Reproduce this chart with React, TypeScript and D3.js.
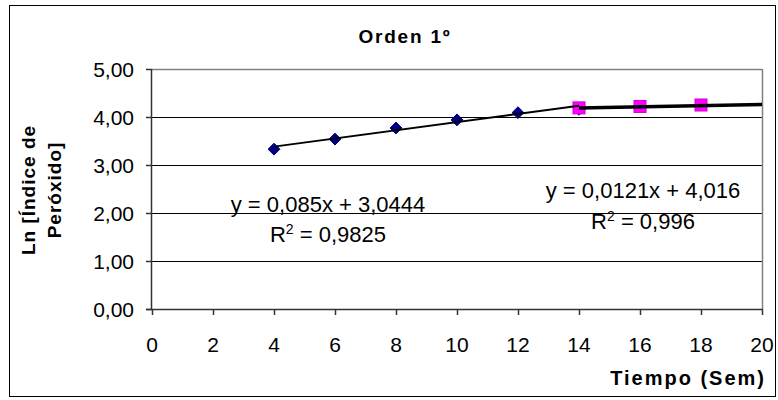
import React from "react";
import * as d3 from "d3";

const xTicks = [0, 2, 4, 6, 8, 10, 12, 14, 16, 18, 20];
const yTicks = [0, 1, 2, 3, 4, 5];
const blueX = [4, 6, 8, 10, 12, 14];
const blueY = [3.33, 3.54, 3.77, 3.94, 4.09, 4.16];
const pinkX = [14, 16, 18];
const pinkY = [4.19, 4.22, 4.25];
const trendSlopes = [0.085, 0.0121];
const trendIntercepts = [3.0444, 4.016];
const trendFrom = [4, 14];
const trendTo = [14, 20];
const eqLabels = ["y = 0,085x + 3,0444", "y = 0,0121x + 4,016"];
const r2Labels = [" = 0,9825", " = 0,996"];
const title = "Orden 1º";
const xTitle = "Tiempo (Sem)";
const yTitleLines = ["Ln [Índice de", "Peróxido]"];

const W = 778;
const H = 400;
const FONT = "'Liberation Sans', Arial, sans-serif";

export default function App() {
  const x = d3.scaleLinear().domain([0, 20]).range([152, 762]);
  const y = d3.scaleLinear().domain([0, 5]).range([309, 69]);
  const fmt = (v: number) => d3.format(".2f")(v).replace(".", ",");
  const diamond = d3.symbol().type(d3.symbolDiamond2 ?? d3.symbolDiamond).size(90)();
  const trendLines = trendSlopes.map((s, i) =>
    d3.line<number>()
      .x((v) => x(v))
      .y((v) => y(s * v + trendIntercepts[i]))([trendFrom[i], trendTo[i]])
  );
  const eqPos = [
    { cx: 328, y1: 212, y2: 242 },
    { cx: 643, y1: 198, y2: 229 },
  ];
  return (
    <svg width={W} height={H} style={{ position: "absolute", left: 0, top: 0, background: "#fff" }} fontFamily={FONT}>
      <rect x={9.5} y={5.5} width={766} height={391} fill="#fff" stroke="#000" strokeWidth={1} />
      <text x={405} y={43} textAnchor="middle" fontSize={19} fontWeight="bold" letterSpacing={1.8}>{title}</text>
      {/* gridlines */}
      {yTicks.filter((t) => t > 0 && t < 5).map((t) => (
        <line key={t} x1={x(0)} x2={x(20)} y1={Math.round(y(t)) + 0.5} y2={Math.round(y(t)) + 0.5} stroke="#000" strokeWidth={1} />
      ))}
      {/* plot border top / right */}
      <line x1={x(0)} x2={x(20)} y1={y(5) + 0.5} y2={y(5) + 0.5} stroke="#808080" strokeWidth={1.5} />
      <line x1={x(20) + 0.5} x2={x(20) + 0.5} y1={y(5)} y2={y(0)} stroke="#808080" strokeWidth={1.5} />
      {/* axes */}
      <line x1={x(0) - 0.5} x2={x(0) - 0.5} y1={y(5)} y2={y(0)} stroke="#333" strokeWidth={1.5} />
      <line x1={x(0) - 6} x2={x(20) + 1} y1={y(0) + 0.5} y2={y(0) + 0.5} stroke="#333" strokeWidth={1.5} />
      {yTicks.map((t) => (
        <g key={t}>
          <line x1={x(0) - 6} x2={x(0)} y1={Math.round(y(t)) + 0.5} y2={Math.round(y(t)) + 0.5} stroke="#333" strokeWidth={1.5} />
          <text x={134} y={y(t)} dy="0.36em" textAnchor="end" fontSize={21}>{fmt(t)}</text>
        </g>
      ))}
      {xTicks.map((t) => (
        <g key={t}>
          <line x1={Math.round(x(t)) + 0.5} x2={Math.round(x(t)) + 0.5} y1={y(0)} y2={y(0) + 6} stroke="#333" strokeWidth={1.5} />
          <text x={x(t)} y={352} textAnchor="middle" fontSize={21}>{t}</text>
        </g>
      ))}
      {/* markers */}
      {blueX.map((v, i) => (
        <path key={"b" + i} d={diamond!} transform={`translate(${x(v)},${y(blueY[i])})`} fill="#000080" stroke="#000080" strokeWidth={1} />
      ))}
      {pinkX.map((v, i) => (
        <rect key={"p" + i} x={x(v) - 6} y={y(pinkY[i]) - 6} width={12} height={12} fill="#FF00FF" stroke="#D000D0" strokeWidth={1} />
      ))}
      {/* trendlines */}
      <path d={trendLines[0]!} stroke="#000" strokeWidth={1.8} fill="none" />
      <path d={trendLines[1]!} stroke="#000" strokeWidth={3.5} fill="none" />
      {/* equations */}
      {eqLabels.map((l, i) => (
        <g key={l}>
          <text x={eqPos[i].cx} y={eqPos[i].y1} textAnchor="middle" fontSize={22}>{l}</text>
          <text x={eqPos[i].cx} y={eqPos[i].y2} textAnchor="middle" fontSize={22}>
            R<tspan fontSize={14} dy={-8}>2</tspan><tspan dy={8}>{r2Labels[i]}</tspan>
          </text>
        </g>
      ))}
      {/* axis titles */}
      <text x={766} y={385} textAnchor="end" fontSize={20} fontWeight="bold" letterSpacing={2}>{xTitle}</text>
      {yTitleLines.map((l, i) => (
        <text key={l} transform={`translate(${35 + i * 26},190) rotate(-90)`} textAnchor="middle" fontSize={19} fontWeight="bold" letterSpacing={1}>{l}</text>
      ))}
    </svg>
  );
}
